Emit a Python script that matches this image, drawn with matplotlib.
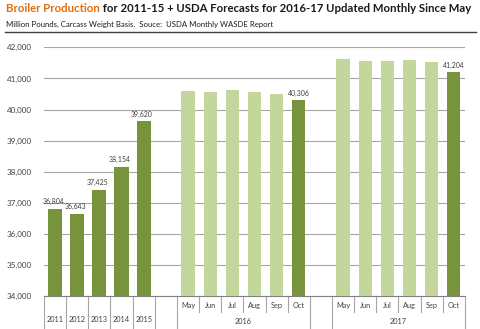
import matplotlib
matplotlib.use("Agg")
import matplotlib.pyplot as plt
from matplotlib.ticker import FuncFormatter

plt.rcParams['font.family'] = ['Lato', 'DejaVu Sans']

years = ["2011", "2012", "2013", "2014", "2015"]
year_values = [36804, 36643, 37425, 38154, 39620]
months = ["May", "Jun", "Jul", "Aug", "Sep", "Oct"]
values_2016 = [40600, 40570, 40625, 40550, 40485, 40306]
values_2017 = [41610, 41565, 41565, 41600, 41545, 41204]
groups = ["2016", "2017"]

dark = "#77933C"
light = "#C3D69B"
txt = "#404040"

fig = plt.figure(figsize=(4.81, 3.29), dpi=100)
ax = fig.add_axes([0.0915, 0.1003, 0.875, 0.7557])

# positions: 5 years, gap, 6 months, gap, 6 months
x_years = list(range(len(years)))
x_2016 = [len(years) + 1 + i for i in range(len(months))]
x_2017 = [x_2016[-1] + 2 + i for i in range(len(months))]

ax.bar(x_years, year_values, width=0.64, color=dark, zorder=3)
ax.bar(x_2016, values_2016, width=0.6,
       color=[light] * 5 + [dark], zorder=3)
ax.bar(x_2017, values_2017, width=0.6,
       color=[light] * 5 + [dark], zorder=3)

for x, v in zip(x_years, year_values):
    ax.text(x - 0.08, v + 110, f"{v:,}", ha="center", va="bottom", fontsize=5, color=txt)
ax.text(x_2016[-1], values_2016[-1] + 110, f"{values_2016[-1]:,}",
        ha="center", va="bottom", fontsize=5, color=txt)
ax.text(x_2017[-1], values_2017[-1] + 110, f"{values_2017[-1]:,}",
        ha="center", va="bottom", fontsize=5, color=txt)

ax.set_ylim(34000, 42000)
ax.set_xlim(-0.5, x_2017[-1] + 0.5)
ax.set_yticks(range(34000, 42001, 1000))
ax.yaxis.set_major_formatter(FuncFormatter(lambda v, p: f"{int(v):,}"))
ax.tick_params(axis="y", length=0, pad=9, labelsize=5.8, labelcolor=txt)
ax.set_xticks([])
ax.grid(axis="y", color="#A6A6A6", linewidth=0.8, zorder=0)
for s in ["top", "right", "left"]:
    ax.spines[s].set_visible(False)
ax.spines["bottom"].set_color("#808080")

tr = ax.get_xaxis_transform()
sep = "#A6A6A6"
# year category labels and full-height separators
for x, lab in zip(x_years, years):
    ax.text(x, -0.095, lab, transform=tr, ha="center", va="center",
            fontsize=5.3, color=txt, clip_on=False)
full = [x - 0.5 for x in x_years] + [x_years[-1] + 0.5, x_2016[0] - 0.5,
        x_2016[-1] + 0.5, x_2017[0] - 0.5, x_2017[-1] + 0.5]
for x in full:
    ax.plot([x, x], [0, -0.135], transform=tr, color=sep, lw=0.8, clip_on=False)
for xs, g in zip([x_2016, x_2017], groups):
    for x, lab in zip(xs, months):
        ax.text(x, -0.04, lab, transform=tr, ha="center", va="center",
                fontsize=5.3, color=txt, clip_on=False)
    for x in xs[1:]:
        ax.plot([x - 0.5, x - 0.5], [0, -0.065], transform=tr, color=sep,
                lw=0.8, clip_on=False)
    ax.text((xs[0] + xs[-1]) / 2, -0.103, g, transform=tr, ha="center",
            va="center", fontsize=5.3, color=txt, clip_on=False)

t1 = fig.text(0.012, 0.975, "Broiler Production", fontsize=8.2, fontweight="bold",
              color="#E46C0A", va="center")
ax.annotate(" for 2011-15 + USDA Forecasts for 2016-17 Updated Monthly Since May",
            xy=(1, 0), xycoords=t1, va="bottom", fontsize=8.2, fontweight="bold",
            color="#1A1A1A", annotation_clip=False)
fig.text(0.012, 0.925, "Million Pounds, Carcass Weight Basis.  Souce:  USDA Monthly WASDE Report",
         fontsize=5.6, color="#1A1A1A", va="center")
fig.add_artist(plt.Line2D([0.01, 0.99], [0.903, 0.903], color="#404040", lw=1))

fig.savefig("out.png", dpi=100)
